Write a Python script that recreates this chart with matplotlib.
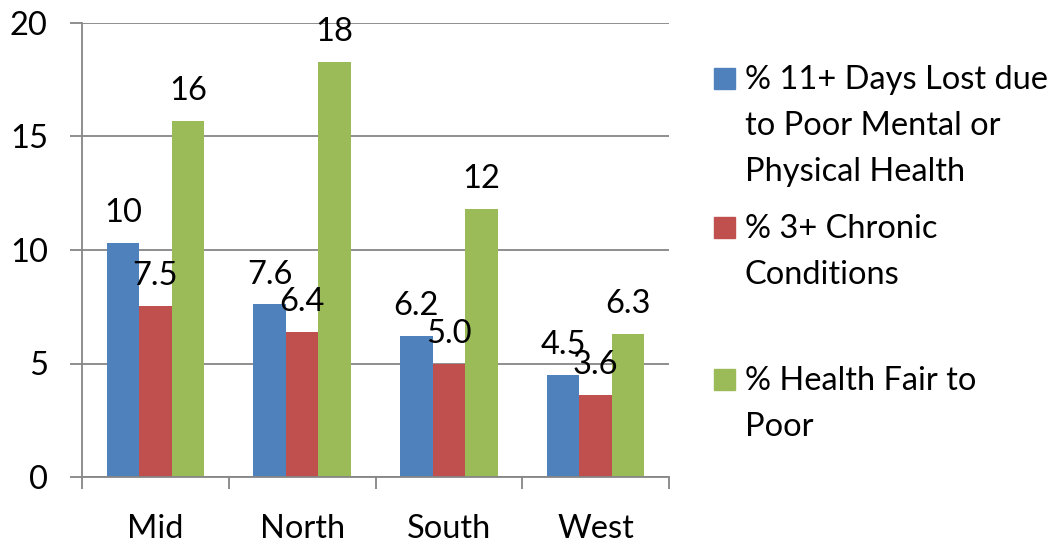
import matplotlib
matplotlib.use("Agg")
from matplotlib import pyplot as plt
from matplotlib.patches import Rectangle
from matplotlib.ticker import FixedLocator
import numpy as np

# data
regions = ["Mid", "North", "South", "West"]
days_lost = [10.3, 7.6, 6.2, 4.5]
chronic = [7.54, 6.4, 5.0, 3.6]
health_poor = [15.7, 18.3, 11.8, 6.3]
series_names = [
    "% 11+ Days Lost due\nto Poor Mental or\nPhysical Health",
    "% 3+ Chronic\nConditions",
    "% Health Fair to\nPoor",
]
y_ticks = [0, 5, 10, 15, 20]

colors = ["#4F81BD", "#C0504D", "#9BBB59"]
grey = "#868686"
fs = 23.5

plt.rcParams['font.family'] = ['Lato', 'DejaVu Sans']

def fmt(v):
    # labels: whole numbers from 10 up, one decimal below
    return "%.0f" % v if v >= 10 else "%.1f" % v

fig = plt.figure(figsize=(10.59, 5.42), dpi=100)
ax = fig.add_axes([82 / 1059, 1 - 477 / 542, (669 - 82) / 1059, (477 - 23) / 542])

x = np.arange(len(regions))
w = 0.222
for i, vals in enumerate([days_lost, chronic, health_poor]):
    pos = x + (i - 1) * w
    ax.bar(pos, vals, width=w, color=colors[i], zorder=3)
    for px, v in zip(pos, vals):
        ax.annotate(fmt(v), (px, v), xytext=(0, 15), textcoords="offset points",
                    ha="center", va="baseline", fontsize=fs, zorder=4)

ax.set_xlim(-0.5, len(regions) - 0.5)
ax.set_ylim(0, 20)
ax.set_yticks(y_ticks)
ax.set_xticks(x)
ax.set_xticklabels(regions)
ax.xaxis.set_minor_locator(FixedLocator(np.arange(len(regions) + 1) - 0.5))

ax.yaxis.grid(True, color=grey, linewidth=1.3, zorder=0)
for s in ["top", "right"]:
    ax.spines[s].set_visible(False)
for s in ["left", "bottom"]:
    ax.spines[s].set_color(grey)
    ax.spines[s].set_linewidth(1.3)
    ax.spines[s].set_zorder(5)

ax.tick_params(axis="y", length=8.6, width=1.3, color=grey, pad=16, labelsize=fs)
ax.tick_params(axis="x", which="major", length=0, pad=26.5, labelsize=fs)
ax.tick_params(axis="x", which="minor", length=8.6, width=1.3, color=grey)

# legend drawn by hand so each wrapped label keeps its key on the first line
first_baselines = [89, 238, 390]
line_gap = 46
for i, name in enumerate(series_names):
    b = first_baselines[i]
    fig.patches.append(Rectangle((714 / 1059, 1 - b / 542), 21 / 1059, 21 / 542,
                                 transform=fig.transFigure, color=colors[i]))
    for j, line in enumerate(name.split("\n")):
        fig.text(745 / 1059, 1 - (b + j * line_gap) / 542, line,
                 fontsize=fs, va="baseline", ha="left")

fig.savefig("out.png", dpi=100)
